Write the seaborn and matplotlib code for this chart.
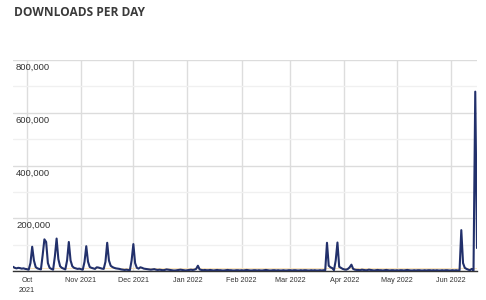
import numpy as np
import pandas as pd
import matplotlib
matplotlib.use("Agg")
import matplotlib.pyplot as plt
import matplotlib.dates as mdates
from matplotlib.ticker import MultipleLocator
import seaborn as sns

# ---- data (daily downloads), Sep 23 2021 .. Jun 16 2022 ----
start_date = "2021-09-23"
sep_2021 = [16000, 12000, 10000, 12000, 11000, 9000, 10000, 8000]
oct_2021 = [7000, 5000, 30000, 92000, 40000, 15000, 10000, 8000, 6000, 60000,
            120000, 110000, 30000, 12000, 8000, 5000, 55000, 123000, 45000, 18000,
            12000, 9000, 6000, 40000, 110000, 40000, 18000, 12000, 10000, 8000, 9000]
nov_2021 = [7000, 5000, 35000, 94000, 35000, 15000, 12000, 10000, 8000, 14000,
            13000, 11000, 9000, 8000, 35000, 107000, 40000, 20000, 15000, 12000,
            10000, 9000, 8000, 6000, 5000, 4000, 5000, 4000, 3000, 40000]
dec_2021 = [102000, 30000, 12000, 9000, 14000, 12000, 9000, 8000, 7000, 6000,
            5000, 6000, 7000, 5000, 4000, 5000, 4000, 3000, 4000, 6000,
            5000, 4000, 3000, 2000, 2000, 3000, 4000, 5000, 4000, 3000, 2000]
jan_2022 = [3000, 4000, 5000, 4000, 5000, 8000, 20000, 6000, 4000, 3000,
            4000, 3000, 3000, 4000, 3000, 2000, 3000, 4000, 3000, 3000,
            2000, 2000, 3000, 4000, 3000, 3000, 2000, 2000, 3000, 3000, 2000]
feb_2022 = [3000, 2000, 3000, 4000, 3000, 2000, 2000, 3000, 3000, 2000,
            3000, 2000, 2000, 3000, 4000, 3000, 2000, 2000, 3000, 3000,
            2000, 3000, 2000, 2000, 3000, 2000, 2000, 3000]
mar_2022 = [3000, 2000, 3000, 3000, 2000, 2000, 3000, 2000, 3000, 3000,
            2000, 2000, 3000, 2000, 3000, 2000, 2000, 3000, 2000, 3000,
            3000, 107000, 20000, 14000, 11000, 3000, 40000, 108000, 16000, 12000, 8000]
apr_2022 = [6000, 5000, 8000, 14000, 24000, 8000, 5000, 4000, 4000, 3000,
            5000, 4000, 3000, 3000, 5000, 4000, 3000, 2000, 3000, 4000,
            3000, 3000, 2000, 3000, 4000, 3000, 2000, 3000, 3000, 2000]
may_2022 = [3000, 2000, 3000, 3000, 2000, 3000, 4000, 3000, 2000, 2000,
            3000, 2000, 3000, 3000, 2000, 2000, 3000, 2000, 3000, 3000,
            2000, 3000, 2000, 3000, 2000, 2000, 3000, 2000, 3000, 3000, 2000]
jun_2022 = [2000, 3000, 2000, 3000, 2000, 3000, 155000, 30000, 12000, 8000,
            5000, 3000, 8000, 2000, 680000, 87000]

average_level = 11000
month_labels = ["Oct\n2021", "Nov 2021", "Dec 2021", "Jan 2022", "Feb 2022",
                "Mar 2022", "Apr 2022", "May 2022", "Jun 2022"]
month_starts = ["2021-10-01", "2021-11-01", "2021-12-01", "2022-01-01", "2022-02-01",
                "2022-03-01", "2022-04-01", "2022-05-01", "2022-06-01"]
y_labels = [800000, 600000, 400000, 200000]

values = (sep_2021 + oct_2021 + nov_2021 + dec_2021 + jan_2022 + feb_2022
          + mar_2022 + apr_2022 + may_2022 + jun_2022)
dates = pd.date_range(start_date, periods=len(values), freq="D")
df = pd.DataFrame({"date": dates, "downloads": values})

sns.set_theme(style="white")
plt.rcParams["font.family"] = ["Liberation Sans", "DejaVu Sans"]

fig = plt.figure(figsize=(4.86, 3.0), dpi=100)
ax = fig.add_axes([13 / 486, 1 - 271 / 300, 464 / 486, 211 / 300])

# grid
ax.set_ylim(0, 800000)
ax.yaxis.set_major_locator(MultipleLocator(200000))
ax.yaxis.set_minor_locator(MultipleLocator(100000))
ax.grid(which="major", axis="y", color="#dcdcdc", lw=1.0)
ax.grid(which="minor", axis="y", color="#f0f0f0", lw=1.0)
ticks = pd.to_datetime(month_starts)
ax.set_xticks(ticks)
ax.set_xticklabels(month_labels, fontsize=5.2, color="#333333", linespacing=1.6)
ax.grid(which="major", axis="x", color="#dddddd", lw=1.0)
ax.set_axisbelow(True)
ax.set_xlim(dates[0], dates[-1])
ax.tick_params(axis="x", length=0, pad=4)
ax.tick_params(axis="y", which="both", length=0, labelleft=False)
for lab in ax.get_xticklabels():
    lab.set_verticalalignment("top")

ax.axhline(average_level, color="#f9e3bb", lw=0.7, zorder=1)

sns.lineplot(data=df, x="date", y="downloads", ax=ax, color="#22306b", lw=1.5, zorder=3)
ax.set_xlabel("")
ax.set_ylabel("")

for v in y_labels:
    ax.annotate(f"{v:,}", xy=(0, v), xycoords=("axes fraction", "data"),
                xytext=(3, -3), textcoords="offset pixels", ha="left", va="top",
                fontsize=6.8, color="#333333")

for s in ["top", "left", "right"]:
    ax.spines[s].set_visible(False)
ax.spines["bottom"].set_color("#333333")
ax.spines["bottom"].set_linewidth(1.0)

fig.text(14 / 486, 1 - 12 / 300, "DOWNLOADS PER DAY", ha="left", va="center",
         fontsize=8.6, fontweight="bold", color="#3a3a3a",
         family=["Open Sans", "DejaVu Sans"])

fig.savefig("out.png", dpi=100)
